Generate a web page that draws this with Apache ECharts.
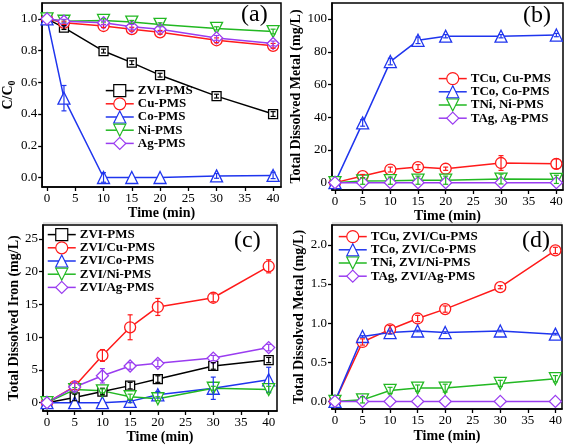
<!DOCTYPE html>
<html><head><meta charset="utf-8">
<script src="https://cdn.jsdelivr.net/npm/echarts@6/dist/echarts.min.js"></script>
<style>html,body{margin:0;padding:0;background:#fff}#c{width:567px;height:445px}</style>
</head><body><div id="c"></div>
<script>
// ---------- DATA ----------
const timeA = [0, 3, 10, 15, 20, 30, 40];
const timeB = [0, 5, 10, 15, 20, 30, 40];
const xTicks = [0, 5, 10, 15, 20, 30, 40, 25, 35];

// (a) C/C0
const aNames = ['ZVI-PMS', 'Cu-PMS', 'Co-PMS', 'Ni-PMS', 'Ag-PMS'];
const aZVI = [1.0, 0.945, 0.797, 0.724, 0.645, 0.513, 0.40];
const aCu  = [1.0, 0.975, 0.955, 0.935, 0.915, 0.865, 0.83];
const aCo  = [1.0, 0.50, 0.0, 0.0, 0.0, 0.01, 0.013];
const aNi  = [1.0, 0.985, 0.99, 0.98, 0.965, 0.94, 0.92];
const aAg  = [1.0, 0.985, 0.975, 0.95, 0.935, 0.88, 0.845];
const aZVIerr = [0, 0.012, 0.012, 0.012, 0.012, 0.012, 0.015];
const aCuErr  = [0, 0.01, 0.01, 0.012, 0.012, 0.015, 0.015];
const aCoErr  = [0, 0.08, 0.03, 0, 0, 0.015, 0.02];
const aNiErr  = [0, 0.01, 0.01, 0.01, 0.01, 0.01, 0.015];
const aAgErr  = [0, 0.012, 0.012, 0.015, 0.015, 0.015, 0.015];
const aTicks = [0, 0.2, 0.4, 0.6, 0.8, 1.0];

// (b) Total dissolved metal, single metal
const bNames = ['TCu, Cu-PMS', 'TCo, Co-PMS', 'TNi, Ni-PMS', 'TAg, Ag-PMS'];
const bCu = [0, 4, 8, 9.5, 8.5, 12, 11.5];
const bCo = [0, 36.5, 74, 87, 89.5, 89.5, 90.2];
const bNi = [0, 1, 1.2, 1.5, 1.5, 2.2, 2];
const bAg = [0, 0, 0, 0, 0, 0, 0];
const bCuErr = [0, 1, 1.5, 1.5, 1, 4.5, 3];
const bCoErr = [0, 2, 2, 2, 1, 1, 1];
const bNiErr = [0, 2, 2.2, 2.5, 2.5, 3, 2.5];
const bAgErr = [0, 0, 0, 0, 0, 0, 0];
const bTicks = [0, 20, 40, 60, 80, 100];

// (c) Total dissolved iron
const cNames = ['ZVI-PMS', 'ZVI/Cu-PMS', 'ZVI/Co-PMS', 'ZVI/Ni-PMS', 'ZVI/Ag-PMS'];
const cZVI = [0, 0.8, 1.7, 2.6, 3.6, 5.6, 6.5];
const cCu  = [0, 2.5, 7.2, 11.5, 14.6, 16.0, 20.8];
const cCo  = [0, 0, 0, 0.2, 1.2, 2.2, 3.5];
const cNi  = [0, 2.0, 1.8, 0.9, 0.6, 2.2, 2.0];
const cAg  = [0, 2.4, 4.1, 5.6, 6.0, 6.8, 8.4];
const cZVIerr = [0, 0.5, 0.5, 0.5, 0.5, 0.5, 0.4];
const cCuErr  = [0, 0.5, 0.9, 1.9, 1.3, 0.6, 1.0];
const cCoErr  = [0, 0, 0, 0.2, 0.5, 1.7, 1.9];
const cNiErr  = [0, 0.3, 0.3, 0.4, 0.3, 0.3, 0.5];
const cAgErr  = [0, 0.7, 1.1, 0.5, 0.5, 0.4, 0.5];
const cTicks = [0, 5, 10, 15, 20, 25];

// (d) Total dissolved metal, ZVI/metal
const dNames = ['TCu, ZVI/Cu-PMS', 'TCo, ZVI/Co-PMS', 'TNi, ZVI/Ni-PMS', 'TAg, ZVI/Ag-PMS'];
const dCu = [0, 0.76, 0.92, 1.06, 1.18, 1.46, 1.93];
const dCo = [0, 0.83, 0.88, 0.90, 0.88, 0.90, 0.86];
const dNi = [0, 0.02, 0.14, 0.17, 0.17, 0.23, 0.29];
const dAg = [0, 0, 0, 0, 0, 0, 0];
const dCuErr = [0, 0.04, 0.05, 0.04, 0.04, 0.02, 0.04];
const dCoErr = [0, 0.01, 0.02, 0.01, 0.01, 0.01, 0.01];
const dNiErr = [0, 0.04, 0.04, 0.04, 0.05, 0.04, 0.04];
const dAgErr = [0, 0, 0, 0, 0, 0, 0];
const dTicks = [0, 0.5, 1.0, 1.5, 2.0];

// ---------- STYLE ----------
const F = 'Liberation Serif';
const BLACK = '#000000', RED = '#ff1a1a', BLUE = '#1f35ee', GREEN = '#22b822', PURPLE = '#9a3cf0';
const SYM = {
  sq: ['rect', 9, 0], ci: ['circle', 11, 0], tr: ['triangle', 12, 0],
  dn: ['triangle', 12, 180], di: ['diamond', 12, 0]
};

function line(name, xs, ys, color, sym, idx) {
  const s = SYM[sym];
  return {
    type: 'line', name, xAxisIndex: idx, yAxisIndex: idx,
    data: xs.map((x, i) => [x, ys[i]]),
    symbol: s[0], symbolSize: s[1], symbolRotate: s[2],
    showAllSymbol: true, z: 2,
    lineStyle: { color, width: 1.5 },
    itemStyle: { color: '#ffffff', borderColor: color, borderWidth: 1.3 },
    emphasis: { disabled: true }, animation: false
  };
}
function errs(xs, ys, es, color, idx) {
  return {
    type: 'custom', xAxisIndex: idx, yAxisIndex: idx, z: 4, silent: true, animation: false,
    data: xs.map((x, i) => [x, ys[i] - es[i], ys[i] + es[i]]).filter(d => d[2] - d[1] > 1e-9),
    encode: { x: 0, y: [1, 2] },
    renderItem: function (params, api) {
      const lo = api.coord([api.value(0), api.value(1)]);
      const hi = api.coord([api.value(0), api.value(2)]);
      const w = 2.5;
      const st = { stroke: color, lineWidth: 1.2 };
      return { type: 'group', children: [
        { type: 'line', shape: { x1: lo[0], y1: lo[1], x2: hi[0], y2: hi[1] }, style: st },
        { type: 'line', shape: { x1: lo[0] - w, y1: lo[1], x2: lo[0] + w, y2: lo[1] }, style: st },
        { type: 'line', shape: { x1: hi[0] - w, y1: hi[1], x2: hi[0] + w, y2: hi[1] }, style: st }
      ]};
    }
  };
}
function xAxis(idx, min, max, gap) {
  return {
    type: 'value', gridIndex: idx, min, max,
    axisLine: { show: true, onZero: false, lineStyle: { color: BLACK, width: 1.5 } },
    axisTick: { show: true, inside: false, length: 4, lineStyle: { color: BLACK, width: 1.3 }, customValues: xTicks },
    axisLabel: { customValues: xTicks, color: BLACK, fontFamily: F, fontSize: 13, margin: 5 },
    splitLine: { show: false },
    name: 'Time (min)', nameLocation: 'middle', nameGap: gap,
    nameTextStyle: { fontFamily: F, fontWeight: 'bold', fontSize: 14, color: BLACK }
  };
}
function yAxis(idx, min, max, ticks, dec, name, gap, rich) {
  const o = {
    type: 'value', gridIndex: idx, min, max,
    axisLine: { show: true, onZero: false, lineStyle: { color: BLACK, width: 1.5 } },
    axisTick: { show: true, inside: false, length: 4, lineStyle: { color: BLACK, width: 1.3 }, customValues: ticks },
    axisLabel: { customValues: ticks, color: BLACK, fontFamily: F, fontSize: 13, margin: 5,
      formatter: v => dec ? v.toFixed(dec) : String(v) },
    splitLine: { show: false },
    name, nameLocation: 'middle', nameGap: gap, nameRotate: 90,
    nameTextStyle: { fontFamily: F, fontWeight: 'bold', fontSize: 14, color: BLACK }
  };
  if (rich) o.nameTextStyle.rich = rich;
  return o;
}
function legend(names, left, top) {
  return {
    data: names, orient: 'vertical', left, top, itemWidth: 28, itemHeight: 15, itemGap: 0,
    selectedMode: false, padding: 0,
    itemStyle: { borderWidth: 1.2 },
    lineStyle: { width: 1.5 },
    textStyle: { fontFamily: F, fontWeight: 'bold', fontSize: 13, color: BLACK, padding: [0, 0, 0, -1] }
  };
}
const gridBase = { show: true, borderColor: BLACK, borderWidth: 1.5, backgroundColor: 'transparent' };

const option = {
  backgroundColor: '#ffffff',
  animation: false,
  grid: [
    Object.assign({ left: 36, top: 3, width: 245, height: 184 }, gridBase),
    Object.assign({ left: 332, top: 3, width: 231, height: 187 }, gridBase),
    Object.assign({ left: 43, top: 225, width: 234, height: 186 }, gridBase),
    Object.assign({ left: 332, top: 225, width: 230, height: 184 }, gridBase)
  ],
  xAxis: [
    xAxis(0, -0.86, 41.4, 18),
    xAxis(1, -0.54, 41.2, 16),
    xAxis(2, -0.72, 41.5, 14),
    xAxis(3, -0.54, 41.2, 20)
  ],
  yAxis: [
    yAxis(0, -0.06, 1.1, aTicks, 1, '{m|C/C}{s|0}', 19,
      { m: { fontFamily: F, fontWeight: 'bold', fontSize: 14, color: BLACK },
        s: { fontFamily: F, fontWeight: 'bold', fontSize: 10, color: BLACK, verticalAlign: 'bottom', padding: [8, 0, 0, 0] } }),
    yAxis(1, -4.5, 109.8, bTicks, 0, 'Total Dissolved Metal (mg/L)', 26),
    yAxis(2, -1.27, 27.1, cTicks, 0, 'Total Dissolved Iron (mg/L)', 18),
    yAxis(3, -0.097, 2.255, dTicks, 1, 'Total Dissolved Metal (mg/L)', 24)
  ],
  legend: [
    legend(aNames, 105, 84),
    legend(bNames, 438, 72),
    legend(cNames, 47, 228),
    legend(dNames, 338, 230)
  ],
  graphic: [
    { type: 'text', left: 241, top: 3, style: { text: '(a)', font: '24px "Liberation Serif"', fill: BLACK } },
    { type: 'text', left: 523, top: 4, style: { text: '(b)', font: '24px "Liberation Serif"', fill: BLACK } },
    { type: 'text', left: 234, top: 229, style: { text: '(c)', font: '24px "Liberation Serif"', fill: BLACK } },
    { type: 'text', left: 522, top: 229, style: { text: '(d)', font: '24px "Liberation Serif"', fill: BLACK } },
    { type: 'line', shape: { x1: 43, y1: 223, x2: 277, y2: 223 }, style: { stroke: '#c8c8c8', lineWidth: 1 } },
    { type: 'line', shape: { x1: 332, y1: 223, x2: 562, y2: 223 }, style: { stroke: '#c8c8c8', lineWidth: 1 } }
  ],
  series: [
    line(aNames[0], timeA, aZVI, BLACK, 'sq', 0),
    line(aNames[1], timeA, aCu, RED, 'ci', 0),
    line(aNames[2], timeA, aCo, BLUE, 'tr', 0),
    line(aNames[3], timeA, aNi, GREEN, 'dn', 0),
    line(aNames[4], timeA, aAg, PURPLE, 'di', 0),
    errs(timeA, aZVI, aZVIerr, BLACK, 0),
    errs(timeA, aCu, aCuErr, RED, 0),
    errs(timeA, aCo, aCoErr, BLUE, 0),
    errs(timeA, aNi, aNiErr, GREEN, 0),
    errs(timeA, aAg, aAgErr, PURPLE, 0),

    line(bNames[0], timeB, bCu, RED, 'ci', 1),
    line(bNames[1], timeB, bCo, BLUE, 'tr', 1),
    line(bNames[2], timeB, bNi, GREEN, 'dn', 1),
    line(bNames[3], timeB, bAg, PURPLE, 'di', 1),
    errs(timeB, bCu, bCuErr, RED, 1),
    errs(timeB, bCo, bCoErr, BLUE, 1),
    errs(timeB, bNi, bNiErr, GREEN, 1),
    errs(timeB, bAg, bAgErr, PURPLE, 1),

    line(cNames[0], timeB, cZVI, BLACK, 'sq', 2),
    line(cNames[1], timeB, cCu, RED, 'ci', 2),
    line(cNames[2], timeB, cCo, BLUE, 'tr', 2),
    line(cNames[3], timeB, cNi, GREEN, 'dn', 2),
    line(cNames[4], timeB, cAg, PURPLE, 'di', 2),
    errs(timeB, cZVI, cZVIerr, BLACK, 2),
    errs(timeB, cCu, cCuErr, RED, 2),
    errs(timeB, cCo, cCoErr, BLUE, 2),
    errs(timeB, cNi, cNiErr, GREEN, 2),
    errs(timeB, cAg, cAgErr, PURPLE, 2),

    line(dNames[0], timeB, dCu, RED, 'ci', 3),
    line(dNames[1], timeB, dCo, BLUE, 'tr', 3),
    line(dNames[2], timeB, dNi, GREEN, 'dn', 3),
    line(dNames[3], timeB, dAg, PURPLE, 'di', 3),
    errs(timeB, dCu, dCuErr, RED, 3),
    errs(timeB, dCo, dCoErr, BLUE, 3),
    errs(timeB, dNi, dNiErr, GREEN, 3),
    errs(timeB, dAg, dAgErr, PURPLE, 3)
  ]
};
const chart = echarts.init(document.getElementById('c'), null, { renderer: 'canvas' });
chart.setOption(option);
</script>
</body></html>
